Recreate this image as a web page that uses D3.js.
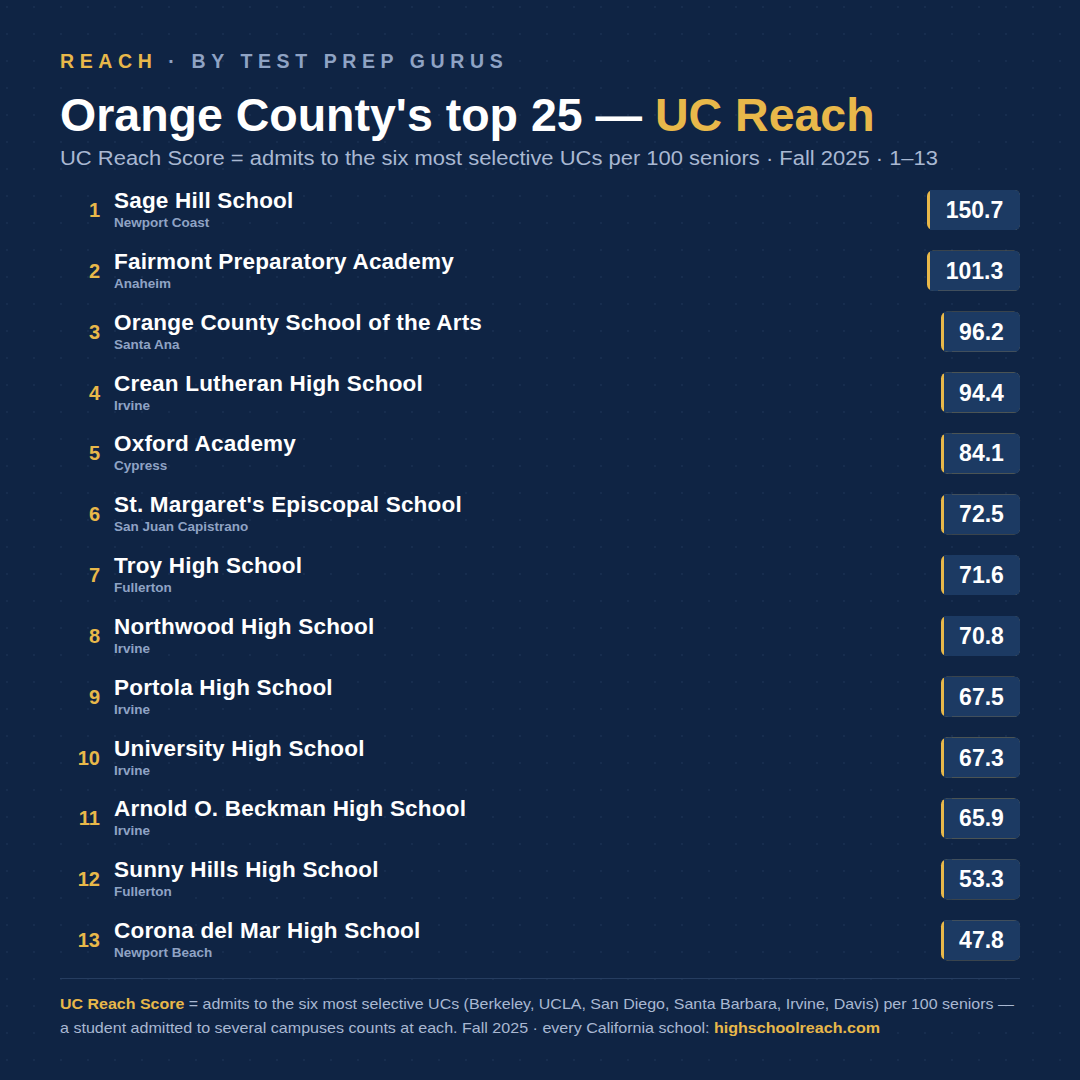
<!DOCTYPE html>
<html><head><meta charset="utf-8">
<script src="https://cdn.jsdelivr.net/npm/d3@7"></script>
<style>body{margin:0;background:#0f2444}svg{display:block}</style>
</head><body><svg id="svg" width="1080" height="1080"></svg>
<script>
const schools = ['Sage Hill School','Fairmont Preparatory Academy','Orange County School of the Arts','Crean Lutheran High School','Oxford Academy',"St. Margaret's Episcopal School",'Troy High School','Northwood High School','Portola High School','University High School','Arnold O. Beckman High School','Sunny Hills High School','Corona del Mar High School']
const cities = ['Newport Coast','Anaheim','Santa Ana','Irvine','Cypress','San Juan Capistrano','Fullerton','Irvine','Irvine','Irvine','Irvine','Fullerton','Newport Beach']
const scores = [150.7,101.3,96.2,94.4,84.1,72.5,71.6,70.8,67.5,67.3,65.9,53.3,47.8]

const gold = '#e8b84a', muted = '#8fa3c4', font = '"Liberation Sans", Arial, Helvetica, sans-serif'
const svg = d3.select('#svg').style('font-family', font)
svg.append('rect').attr('width',1080).attr('height',1080).attr('fill','#0f2444')

// dot grid
const pat = svg.append('defs').append('pattern').attr('id','dots').attr('width',27).attr('height',27).attr('patternUnits','userSpaceOnUse').attr('x',6).attr('y',6)
pat.append('circle').attr('cx',1).attr('cy',1).attr('r',0.9).attr('fill','#1a3153')
svg.append('rect').attr('width',1080).attr('height',1080).attr('fill','url(#dots)')

// header
const kick = svg.append('text').attr('x',60).attr('y',68).attr('font-size',19.5).attr('font-weight',700).attr('letter-spacing',5.6)
kick.append('tspan').attr('fill',gold).text('REACH')
kick.append('tspan').attr('fill',muted).text(' · BY TEST PREP GURUS')
const title = svg.append('text').attr('x',60).attr('y',131).attr('font-size',46.5).attr('font-weight',700).attr('fill','#fff')
title.append('tspan').text("Orange County's top 25 — ")
title.append('tspan').attr('fill',gold).text('UC Reach')
svg.append('text').attr('x',60).attr('y',165).attr('font-size',19.5).attr('fill','#a9b8d2')
  .attr('textLength',878).attr('lengthAdjust','spacingAndGlyphs')
  .text('UC Reach Score = admits to the six most selective UCs per 100 seniors · Fall 2025 · 1–13')

const y = d3.scaleBand().domain(d3.range(schools.length)).range([180, 971]).paddingInner(0)
const rows = svg.selectAll('.row').data(schools).enter().append('g').attr('class','row')
  .attr('transform', (d,i) => `translate(0,${y(i)})`)
rows.append('text').attr('x',100).attr('y',37).attr('text-anchor','end').attr('font-size',20).attr('font-weight',700).attr('fill',gold).text((d,i)=>i+1)
rows.append('text').attr('x',114).attr('y',28).attr('font-size',22.5).attr('font-weight',700).attr('fill','#fff').attr('letter-spacing',0.2).text(d=>d)
rows.append('text').attr('x',114).attr('y',47).attr('font-size',13.5).attr('font-weight',700).attr('fill',muted).text((d,i)=>cities[i])

rows.each(function(d,i){
  const g = d3.select(this)
  const label = scores[i].toFixed(1)
  const w = label.length >= 5 ? 93 : 79
  g.append('rect').attr('x',1020-w).attr('y',10).attr('width',w).attr('height',40).attr('rx',6).attr('fill',gold)
  g.append('rect').attr('x',1023-w).attr('y',10).attr('width',w-3).attr('height',40).attr('rx',5).attr('fill','#1c3a63')
  g.append('rect').attr('x',1023-w).attr('y',10).attr('width',8).attr('height',40).attr('fill','#1c3a63')
  g.append('text').attr('x',1011.5 - (w-3)/2 + 8).attr('y',38).attr('text-anchor','middle').attr('font-size',23).attr('font-weight',700).attr('fill','#fff').text(label)
})

svg.append('line').attr('x1',60).attr('x2',1020).attr('y1',978.5).attr('y2',978.5).attr('stroke','#263d60')
const f1 = svg.append('text').attr('x',60).attr('y',1009).attr('font-size',14.5).attr('fill','#a9b8d2')
  .attr('textLength',954).attr('lengthAdjust','spacingAndGlyphs')
f1.append('tspan').attr('fill',gold).attr('font-weight',700).text('UC Reach Score')
f1.append('tspan').text(' = admits to the six most selective UCs (Berkeley, UCLA, San Diego, Santa Barbara, Irvine, Davis) per 100 seniors —')
const f2 = svg.append('text').attr('x',60).attr('y',1033).attr('font-size',14.5).attr('fill','#a9b8d2')
  .attr('textLength',820).attr('lengthAdjust','spacingAndGlyphs')
f2.append('tspan').text('a student admitted to several campuses counts at each. Fall 2025 · every California school: ')
f2.append('tspan').attr('fill',gold).attr('font-weight',700).text('highschoolreach.com')
</script></body></html>
